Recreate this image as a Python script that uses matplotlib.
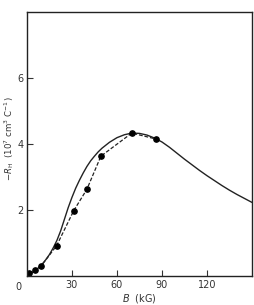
import matplotlib
matplotlib.use("Agg")
import matplotlib.pyplot as plt

# measured points (filled circles, dashed line)
b_meas = [1.5, 5.1, 9.6, 19.8, 31.2, 40.0, 49.3, 69.9, 86.0]
rh_meas = [0.08, 0.17, 0.31, 0.92, 1.98, 2.63, 3.63, 4.33, 4.15]

# calculated curve (solid line)
b_calc = [0, 2.5, 5, 7.5, 10, 12.5, 15, 17.5, 20, 22.5, 25, 27.5, 30, 32.5, 35, 37.5,
          40, 42.5, 45, 47.5, 50, 55, 60, 65, 70, 75, 80, 85, 90, 95, 100, 105,
          110, 115, 120, 125, 130, 135, 140, 145, 150]
rh_calc = [0, 0.07, 0.15, 0.24, 0.35, 0.49, 0.65, 0.85, 1.08, 1.37, 1.72, 2.07, 2.38,
           2.66, 2.9, 3.12, 3.32, 3.49, 3.63, 3.76, 3.87, 4.05, 4.19, 4.28, 4.33,
           4.32, 4.27, 4.18, 4.06, 3.9, 3.72, 3.54, 3.37, 3.2, 3.04, 2.89, 2.74,
           2.6, 2.47, 2.35, 2.23]

plt.rcParams["font.family"] = "DejaVu Sans"
fig = plt.figure(figsize=(2.54, 3.05), dpi=100)
ax = fig.add_axes([0.106, 0.095, 0.886, 0.866])

ax.plot(b_calc, rh_calc, color="#222222", lw=1.0)
ax.plot(b_meas, rh_meas, color="#222222", lw=0.9, ls=(0, (3, 1.5)),
        marker="o", ms=3.8, mfc="black", mec="black")

ax.set_xlim(0, 150)
ax.set_ylim(0, 8)
ax.set_xticks([30, 60, 90, 120])
ax.set_yticks([2, 4, 6])
ax.tick_params(direction="in", length=4, width=0.8, labelsize=7, pad=3,
               colors="#333333")
ax.tick_params(axis="y", pad=2.5)
ax.annotate("0", xy=(0, 0), xytext=(-6, -4), textcoords="offset points",
            ha="center", va="top", fontsize=7, color="#333333")

for s in ax.spines.values():
    s.set_linewidth(1.0)
    s.set_color("#222222")

ax.set_xlabel(r"$B$  (kG)", fontsize=7, labelpad=1, color="#333333")
ax.set_ylabel(r"$-R_{\rm H}$  (10$^7$ cm$^3$ C$^{-1}$)", fontsize=6.2,
              color="#333333")
ax.yaxis.set_label_coords(-0.048, 0.52)

fig.savefig("out.png", dpi=100)
